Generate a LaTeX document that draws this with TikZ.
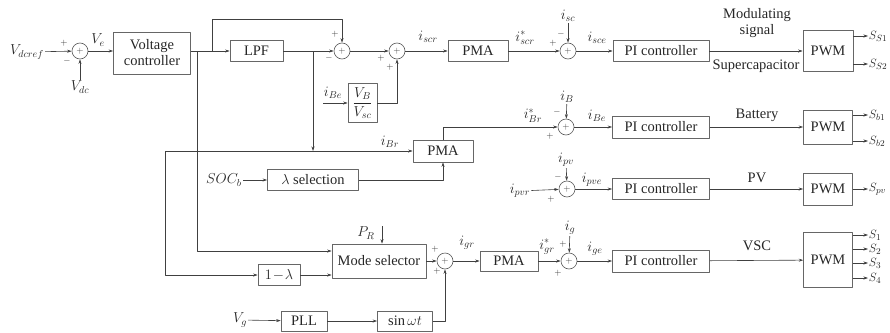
\documentclass[tikz,border=0pt]{standalone}
\usepackage{fontspec}
\setmainfont{Liberation Serif}
\usepackage{amsmath}
\usetikzlibrary{arrows.meta,calc}

\begin{document}
\begin{tikzpicture}[x=1pt,y=-1pt,>={Stealth[length=4.5pt,width=3pt]},line join=round,
  color=black!75,line width=0.6pt,
  blk/.style={draw=black!60,inner sep=0pt,font=\fontsize{14.5}{16}\selectfont,text=black!85},
  sumc/.style={circle,draw=black!65,inner sep=0pt,minimum size=16pt,font=\fontsize{9}{9}\selectfont},
  lbl/.style={inner sep=1pt,font=\fontsize{14}{15}\selectfont,text=black!85},
  outl/.style={anchor=west,inner sep=0.5pt,font=\fontsize{12.5}{13}\selectfont,text=black!85},
  sgn/.style={inner sep=0pt,font=\fontsize{9}{9}\selectfont,text=black!80}]
  \useasboundingbox (0,0) rectangle (890,332);
  % blocks
  \node[blk,minimum width=77pt,minimum height=42pt,align=center] (vc) at (152,53) {Voltage\\controller};
  \node[blk,minimum width=53pt,minimum height=21pt] (lpf) at (256.5,51) {LPF};
  \node[blk,minimum width=29pt,minimum height=39pt] (ratio) at (362.5,103) {$\dfrac{V_B}{V_{sc}}$};
  \node[blk,minimum width=60pt,minimum height=21pt] (pma1) at (478,51) {PMA};
  \node[blk,minimum width=96pt,minimum height=21pt] (pi1) at (661,51) {PI controller};
  \node[blk,minimum width=50pt,minimum height=41pt] (pwm1) at (828,51) {PWM};
  \node[blk,minimum width=60pt,minimum height=22pt] (pma2) at (443,151) {PMA};
  \node[blk,minimum width=91pt,minimum height=21pt] (lam) at (313,180) {$\lambda$ selection};
  \node[blk,minimum width=97pt,minimum height=22pt] (pi2) at (661,127) {PI controller};
  \node[blk,minimum width=49pt,minimum height=34pt] (pwm2) at (828,127) {PWM};
  \node[blk,minimum width=97pt,minimum height=21pt] (pi3) at (661,189) {PI controller};
  \node[blk,minimum width=49pt,minimum height=32pt] (pwm3) at (828,189) {PWM};
  \node[blk,minimum width=94pt,minimum height=34pt] (ms) at (379,261) {Mode selector};
  \node[blk,minimum width=42pt,minimum height=21pt] (oneml) at (279,275) {$1\!-\!\lambda$};
  \node[blk,minimum width=58pt,minimum height=20pt] (pma3) at (509,261) {PMA};
  \node[blk,minimum width=97pt,minimum height=22pt] (pi4) at (661,261) {PI controller};
  \node[blk,minimum width=49pt,minimum height=55pt] (pwm4) at (828,260) {PWM};
  \node[blk,minimum width=46pt,minimum height=20pt] (pll) at (304,321) {PLL};
  \node[blk,minimum width=55pt,minimum height=20pt] (sinw) at (405,321) {$\sin\omega t$};
  % summing points
  \node[sumc] (s1) at (80,51) {$+$};
  \node[sumc] (s2) at (342,51) {$+$};
  \node[sumc] (s3) at (397,51) {$+$};
  \node[sumc] (s4) at (568,51) {$+$};
  \node[sumc] (s5) at (566,127) {$+$};
  \node[sumc] (s6) at (567,189) {$+$};
  \node[sumc] (s7) at (445,261) {$+$};
  \node[sumc] (s8) at (569,261) {$+$};
  % signal labels
  \node[lbl] (vdcref) at (27,52) {$V_{dcref}$};
  \node[lbl] (vdc) at (80,87) {$V_{dc}$};
  \node[lbl] (ve) at (98,40) {$V_e$};
  \node[lbl] (ibe) at (333,93) {$i_{Be}$};
  \node[lbl] (iscr) at (428,37) {$i_{scr}$};
  \node[lbl] (iscrs) at (525,38) {$i^{*}_{scr}$};
  \node[lbl] (isc) at (568,16) {$i_{sc}$};
  \node[lbl] (isce) at (597,38) {$i_{sce}$};
  \node[blk,draw=none,align=center] (modsig) at (757,23) {Modulating\\signal};
  \node[blk,draw=none] (supc) at (756,66) {Supercapacitor};
  \node[lbl] (ibr) at (390,142) {$i_{Br}$};
  \node[lbl] (soc) at (224,180) {$SOC_b$};
  \node[lbl] (ibrs) at (533,116) {$i^{*}_{Br}$};
  \node[lbl] (ib) at (567,97) {$i_B$};
  \node[lbl] (ibe2) at (597,116) {$i_{Be}$};
  \node[blk,draw=none] (batt) at (757,115) {Battery};
  \node[lbl] (ipvr) at (520,191) {$i_{pvr}$};
  \node[lbl] (ipv) at (566,160) {$i_{pv}$};
  \node[lbl] (ipve) at (592,180) {$i_{pve}$};
  \node[blk,draw=none] (pvl) at (757,178) {PV};
  \node[lbl] (pr) at (366,233) {$P_R$};
  \node[lbl] (igr) at (467,243) {$i_{gr}$};
  \node[lbl] (igrs) at (547,247) {$i^{*}_{gr}$};
  \node[lbl] (ig) at (570,228) {$i_g$};
  \node[lbl] (ige) at (595,249) {$i_{ge}$};
  \node[blk,draw=none] (vscl) at (757,246) {VSC};
  \node[lbl] (vg) at (240,320) {$V_g$};
  % signs
  \node[sgn] at (64,43) {$+$};
  \node[sgn] at (67,61) {$-$};
  \node[sgn] at (335,34) {$+$};
  \node[sgn] at (329,58) {$-$};
  \node[sgn] at (381,58) {$+$};
  \node[sgn] at (390,67) {$+$};
  \node[sgn] at (553,43) {$+$};
  \node[sgn] at (561,34) {$-$};
  \node[sgn] at (557,112) {$-$};
  \node[sgn] at (550,136) {$+$};
  \node[sgn] at (558,177) {$-$};
  \node[sgn] at (551,199) {$+$};
  \node[sgn] at (435,249) {$+$};
  \node[sgn] at (437,271) {$+$};
  \node[sgn] at (563,244) {$+$};
  \node[sgn] at (558,273) {$+$};
  % junctions and free ends
  \coordinate (j1) at (197,51);
  \coordinate (j2) at (212,51);
  \coordinate (j3) at (313,51);
  \coordinate (t1) at (212,19);
  \coordinate (k1) at (165,151);
  \coordinate (k2) at (313,151);
  \coordinate (m1) at (197,251);
  \coordinate (ibe0) at (323,103);
  \coordinate (pr0) at (382,226);
  % supercapacitor row
  \draw[->] (vdcref) -- (s1);
  \draw[->] (vdc) -- (s1);
  \draw[->] (s1) -- (vc.west |- s1);
  \draw[->] (vc.east |- lpf) -- (lpf);
  \draw[->] (j2) -- (t1) -| (s2.north);
  \draw[->] (lpf) -- (s2);
  \draw[->] (s2) -- (s3);
  \draw[->] (ibe0) -- (ratio);
  \draw[->] (ratio.east) -| (s3.south);
  \draw[->] (s3) -- (pma1);
  \draw[->] (pma1) -- (s4);
  \draw[->] (isc) -- (s4);
  \draw[->] (s4) -- (pi1);
  \draw[->] (pi1) -- (pwm1);
  \foreach \y/\s in {36/S1,64/S2} {
    \coordinate (o\s) at (868,\y);
    \draw[->] (pwm1.east |- o\s) -- (o\s);
    \node[outl] at (o\s) {$S_{\s}$};
  }
  % battery row
  \draw[->] (j3) -- (k2);
  \draw[->] (k1) -- (pma2);
  \draw[->] (k1) |- (oneml);
  \draw[->] (soc) -- (lam);
  \draw[->] (lam.east) -| (pma2.south);
  \draw[->] (pma2.north) |- (s5);
  \draw[->] (ib) -- (s5);
  \draw[->] (s5) -- (pi2);
  \draw[->] (pi2) -- (pwm2);
  \foreach \y/\s in {115/b1,141/b2} {
    \coordinate (o\s) at (868,\y);
    \draw[->] (pwm2.east |- o\s) -- (o\s);
    \node[outl] at (o\s) {$S_{\s}$};
  }
  % PV row
  \draw[->] (ipvr) -- (s6);
  \draw[->] (ipv) -- (s6);
  \draw[->] (s6) -- (pi3);
  \draw[->] (pi3) -- (pwm3);
  \coordinate (opv) at (868,189);
  \draw[->] (pwm3) -- (opv);
  \node[outl] at (opv) {$S_{pv}$};
  % grid row
  \draw[->] (j1) -- (m1) -- (m1 -| ms.west);
  \draw[->] (oneml) -- (oneml -| ms.west);
  \draw[->] (pr0) -- (pr0 |- ms.north);
  \draw[->] (ms) -- (s7);
  \draw[->] (s7) -- (pma3);
  \draw[->] (pma3) -- (s8);
  \draw[->] (ig) -- (s8);
  \draw[->] (s8) -- (pi4);
  \draw[->] (pi4) -- (pwm4);
  \foreach \y/\s in {235/1,249/2,263/3,278/4} {
    \coordinate (o\s) at (868,\y);
    \draw[->] (pwm4.east |- o\s) -- (o\s);
    \node[outl] at (o\s) {$S_{\s}$};
  }
  \draw[->] (vg) -- (pll);
  \draw[->] (pll) -- (sinw);
  \draw[->] (sinw.east) -| (s7.south);
\end{tikzpicture}
\end{document}
